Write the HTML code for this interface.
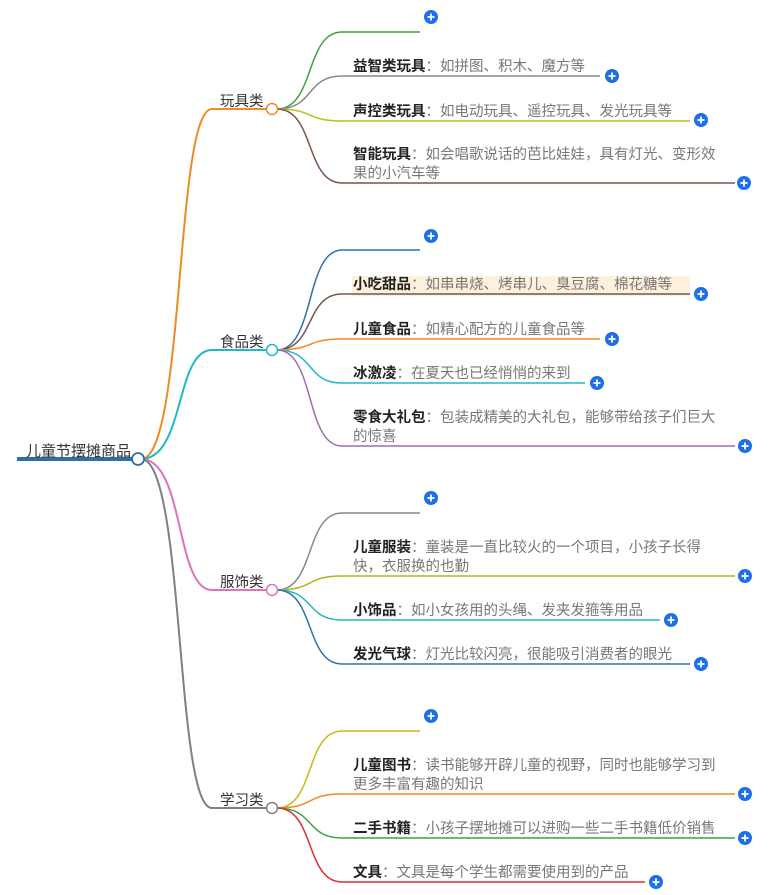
<!DOCTYPE html>
<html><head><meta charset="utf-8"><style>
body{margin:0;background:#fff;width:779px;height:895px;overflow:hidden}
svg{display:block}
text{font-family:"Liberation Sans","Noto Sans CJK SC",sans-serif;font-size:14.5px}
.b{font-weight:bold;fill:#222}
.g{fill:#777}
.c{fill:#333;font-size:14.5px}
</style></head><body>
<svg id="s" width="779" height="895" xmlns="http://www.w3.org/2000/svg"></svg>
<script>
const s=document.getElementById('s');let h='';
h+='<rect x="352" y="276" width="338" height="20" fill="#fdf0dc"/>';
const cats=[
 {n:'玩具类',y:109,c:'#f08a24',k:[
  {y:32,e:420,c:'#3fa040',p:[431,17]},
  {y:76,e:600,c:'#888',p:[612,76],b:'益智类玩具',t:['：如拼图、积木、魔方等']},
  {y:121,e:690,c:'#b5c21a',p:[701,120],b:'声控类玩具',t:['：如电动玩具、遥控玩具、发光玩具等']},
  {y:183,e:735,c:'#7a5548',p:[744,183],b:'智能玩具',t:['：如会唱歌说话的芭比娃娃，具有灯光、变形效','果的小汽车等']}]},
 {n:'食品类',y:350,c:'#1fb8c8',k:[
  {y:250,e:420,c:'#2f72a8',p:[431,236]},
  {y:294,e:690,c:'#7a5548',p:[701,294],b:'小吃甜品',t:['：如串串烧、烤串儿、臭豆腐、棉花糖等']},
  {y:339,e:600,c:'#f08a24',p:[612,339],b:'儿童食品',t:['：如精心配方的儿童食品等']},
  {y:383,e:585,c:'#1fb8c8',p:[597,383],b:'冰激凌',t:['：在夏天也已经悄悄的来到']},
  {y:446,e:735,c:'#9a6fb8',p:[745,446],b:'零食大礼包',t:['：包装成精美的大礼包，能够带给孩子们巨大','的惊喜']}]},
 {n:'服饰类',y:590,c:'#e070c0',k:[
  {y:513,e:420,c:'#888',p:[431,498]},
  {y:576,e:735,c:'#b5b51a',p:[745,576],b:'儿童服装',t:['：童装是一直比较火的一个项目，小孩子长得','快，衣服换的也勤']},
  {y:620,e:660,c:'#1fb8c8',p:[671,620],b:'小饰品',t:['：如小女孩用的头绳、发夹发箍等用品']},
  {y:664,e:690,c:'#2f72a8',p:[701,664],b:'发光气球',t:['：灯光比较闪亮，很能吸引消费者的眼光']}]},
 {n:'学习类',y:808,c:'#808080',k:[
  {y:731,e:420,c:'#c8b81a',p:[431,716]},
  {y:794,e:735,c:'#f08a24',p:[745,794],b:'儿童图书',t:['：读书能够开辟儿童的视野，同时也能够学习到','更多丰富有趣的知识']},
  {y:838,e:735,c:'#3fa040',p:[745,838],b:'二手书籍',t:['：小孩子摆地摊可以进购一些二手书籍低价销售']},
  {y:882,e:645,c:'#d83030',p:[656,882],b:'文具',t:['：文具是每个学生都需要使用到的产品']}]}
];
function plus(x,y){return `<circle cx="${x}" cy="${y}" r="7" fill="#1f6fe8"/><path d="M${x-3.5} ${y}H${x+3.5}M${x} ${y-3.5}V${y+3.5}" stroke="#fff" stroke-width="1.8"/>`;}
for(const c of cats){
 h+=`<path d="M141 459C185 459 175 ${c.y} 212 ${c.y}H267" fill="none" stroke="${c.c}" stroke-width="2"/>`;
 for(const k of c.k){
  h+=`<path d="M277 ${c.y}C315 ${c.y} 305 ${k.y} 342 ${k.y}H${k.e}" fill="none" stroke="${k.c}" stroke-width="1.5"/>`;
  h+=plus(k.p[0],k.p[1]);
  if(k.b){
   const two=k.t.length>1;
   const ty=two?k.y-24:k.y-5;
   h+=`<text x="353" y="${ty}"><tspan class="b">${k.b}</tspan><tspan class="g">${k.t[0]}</tspan></text>`;
   if(two)h+=`<text x="353" y="${ty+19}" class="g">${k.t[1]}</text>`;
  }
 }
 h+=`<text x="220" y="${c.y-3}" class="c">${c.n}</text>`;
 h+=`<circle cx="272" cy="${c.y}" r="5.5" fill="#fff" stroke="${c.c}" stroke-width="1.5"/>`;
}
h+='<path d="M17 459H133" stroke="#2f6fa8" stroke-width="4"/>';
h+='<text x="26" y="456" class="c" style="font-size:15px">儿童节摆摊商品</text>';
h+='<circle cx="138" cy="459" r="6" fill="#fff" stroke="#2f6fa8" stroke-width="1.8"/>';
s.innerHTML=h;
</script>
</body></html>
